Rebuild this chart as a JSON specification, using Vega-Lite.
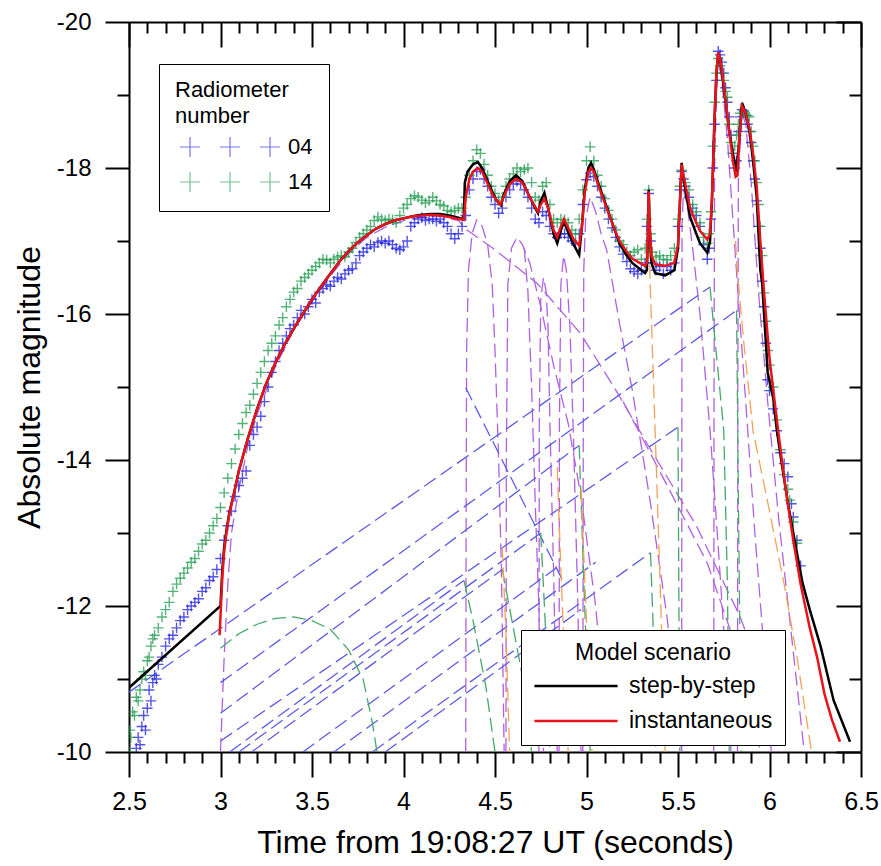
{
"$schema": "https://vega.github.io/schema/vega-lite/v6.json",
"width": 732, "height": 730,
"autosize": {"type": "none"},
"padding": {"left": 129, "top": 22, "right": 20, "bottom": 114},
"background": "white",
"datasets": {
"comp": [
{"c":"P1","k":"frag","i":0,"t":3.0,"m":-10.0},{"c":"P1","k":"frag","i":1,"t":3.02,"m":-11.3},{"c":"P1","k":"frag","i":2,"t":3.04,"m":-12.3},{"c":"P1","k":"frag","i":3,"t":3.06,"m":-13.0},{"c":"P1","k":"frag","i":4,"t":3.1,"m":-13.6},{"c":"P1","k":"frag","i":5,"t":3.15,"m":-14.2},{"c":"P1","k":"frag","i":6,"t":3.2,"m":-14.62},{"c":"P1","k":"frag","i":7,"t":3.3,"m":-15.28},{"c":"P1","k":"frag","i":8,"t":3.4,"m":-15.78},{"c":"P1","k":"frag","i":9,"t":3.5,"m":-16.17},{"c":"P1","k":"frag","i":10,"t":3.6,"m":-16.52},{"c":"P1","k":"frag","i":11,"t":3.7,"m":-16.83},{"c":"P1","k":"frag","i":12,"t":3.8,"m":-17.05},{"c":"P1","k":"frag","i":13,"t":3.9,"m":-17.19},{"c":"P1","k":"frag","i":14,"t":4.0,"m":-17.28},{"c":"P1","k":"frag","i":15,"t":4.1,"m":-17.33},{"c":"P1","k":"frag","i":16,"t":4.2,"m":-17.34},{"c":"P1","k":"frag","i":17,"t":4.3,"m":-17.28},{"c":"P1","k":"frag","i":18,"t":4.347,"m":-17.15},{"c":"P1","k":"frag","i":19,"t":4.5,"m":-16.88},{"c":"P1","k":"frag","i":20,"t":4.73,"m":-16.42},{"c":"P1","k":"frag","i":21,"t":4.965,"m":-15.74},{"c":"P1","k":"frag","i":22,"t":5.15,"m":-15.0},{"c":"P1","k":"frag","i":23,"t":5.33,"m":-14.23},{"c":"P1","k":"frag","i":24,"t":5.6,"m":-13.1},{"c":"P1","k":"frag","i":25,"t":5.84,"m":-11.85},{"c":"P1","k":"frag","i":26,"t":5.95,"m":-11.1},{"c":"P1","k":"frag","i":27,"t":6.05,"m":-10.0},
{"c":"F1","k":"frag","i":0,"t":4.34,"m":-10.0},{"c":"F1","k":"frag","i":1,"t":4.342,"m":-13.0},{"c":"F1","k":"frag","i":2,"t":4.345,"m":-15.5},{"c":"F1","k":"frag","i":3,"t":4.355,"m":-16.6},{"c":"F1","k":"frag","i":4,"t":4.375,"m":-17.1},{"c":"F1","k":"frag","i":5,"t":4.4,"m":-17.29},{"c":"F1","k":"frag","i":6,"t":4.43,"m":-17.2},{"c":"F1","k":"frag","i":7,"t":4.46,"m":-16.95},{"c":"F1","k":"frag","i":8,"t":4.485,"m":-16.4},{"c":"F1","k":"frag","i":9,"t":4.5,"m":-15.5},{"c":"F1","k":"frag","i":10,"t":4.52,"m":-14.0},{"c":"F1","k":"frag","i":11,"t":4.535,"m":-12.5},{"c":"F1","k":"frag","i":12,"t":4.55,"m":-10.0},
{"c":"F2","k":"frag","i":0,"t":4.56,"m":-10.0},{"c":"F2","k":"frag","i":1,"t":4.562,"m":-14.0},{"c":"F2","k":"frag","i":2,"t":4.57,"m":-16.4},{"c":"F2","k":"frag","i":3,"t":4.59,"m":-16.9},{"c":"F2","k":"frag","i":4,"t":4.62,"m":-17.05},{"c":"F2","k":"frag","i":5,"t":4.65,"m":-16.95},{"c":"F2","k":"frag","i":6,"t":4.69,"m":-16.7},{"c":"F2","k":"frag","i":7,"t":4.75,"m":-16.1},{"c":"F2","k":"frag","i":8,"t":4.82,"m":-15.3},{"c":"F2","k":"frag","i":9,"t":4.9,"m":-14.5},{"c":"F2","k":"frag","i":10,"t":4.97,"m":-13.5},{"c":"F2","k":"frag","i":11,"t":5.05,"m":-12.0},{"c":"F2","k":"frag","i":12,"t":5.12,"m":-10.0},
{"c":"F2b","k":"frag","i":0,"t":4.66,"m":-16.9},{"c":"F2b","k":"frag","i":1,"t":4.68,"m":-16.3},{"c":"F2b","k":"frag","i":2,"t":4.7,"m":-15.0},{"c":"F2b","k":"frag","i":3,"t":4.72,"m":-13.4},{"c":"F2b","k":"frag","i":4,"t":4.745,"m":-11.6},{"c":"F2b","k":"frag","i":5,"t":4.765,"m":-10.0},
{"c":"F3","k":"frag","i":0,"t":4.74,"m":-10.0},{"c":"F3","k":"frag","i":1,"t":4.742,"m":-14.5},{"c":"F3","k":"frag","i":2,"t":4.75,"m":-16.2},{"c":"F3","k":"frag","i":3,"t":4.765,"m":-16.5},{"c":"F3","k":"frag","i":4,"t":4.78,"m":-16.3},{"c":"F3","k":"frag","i":5,"t":4.79,"m":-15.8},{"c":"F3","k":"frag","i":6,"t":4.8,"m":-14.5},{"c":"F3","k":"frag","i":7,"t":4.82,"m":-12.5},{"c":"F3","k":"frag","i":8,"t":4.84,"m":-10.0},
{"c":"F4","k":"frag","i":0,"t":4.85,"m":-10.0},{"c":"F4","k":"frag","i":1,"t":4.852,"m":-14.5},{"c":"F4","k":"frag","i":2,"t":4.86,"m":-16.4},{"c":"F4","k":"frag","i":3,"t":4.875,"m":-16.8},{"c":"F4","k":"frag","i":4,"t":4.89,"m":-16.6},{"c":"F4","k":"frag","i":5,"t":4.91,"m":-15.8},{"c":"F4","k":"frag","i":6,"t":4.93,"m":-14.2},{"c":"F4","k":"frag","i":7,"t":4.95,"m":-12.3},{"c":"F4","k":"frag","i":8,"t":4.97,"m":-10.0},
{"c":"F5","k":"frag","i":0,"t":4.98,"m":-10.0},{"c":"F5","k":"frag","i":1,"t":4.982,"m":-14.0},{"c":"F5","k":"frag","i":2,"t":4.985,"m":-16.6},{"c":"F5","k":"frag","i":3,"t":4.995,"m":-17.3},{"c":"F5","k":"frag","i":4,"t":5.02,"m":-17.6},{"c":"F5","k":"frag","i":5,"t":5.05,"m":-17.4},{"c":"F5","k":"frag","i":6,"t":5.08,"m":-17.1},{"c":"F5","k":"frag","i":7,"t":5.11,"m":-16.88},{"c":"F5","k":"frag","i":8,"t":5.18,"m":-15.88},{"c":"F5","k":"frag","i":9,"t":5.25,"m":-14.96},{"c":"F5","k":"frag","i":10,"t":5.35,"m":-13.4},{"c":"F5","k":"frag","i":11,"t":5.44,"m":-11.85},{"c":"F5","k":"frag","i":12,"t":5.52,"m":-10.0},
{"c":"F6","k":"frag","i":0,"t":5.52,"m":-10.0},{"c":"F6","k":"frag","i":1,"t":5.521,"m":-14.5},{"c":"F6","k":"frag","i":2,"t":5.522,"m":-17.2},{"c":"F6","k":"frag","i":3,"t":5.53,"m":-17.7},{"c":"F6","k":"frag","i":4,"t":5.55,"m":-17.5},{"c":"F6","k":"frag","i":5,"t":5.58,"m":-16.9},{"c":"F6","k":"frag","i":6,"t":5.62,"m":-16.0},{"c":"F6","k":"frag","i":7,"t":5.675,"m":-14.41},{"c":"F6","k":"frag","i":8,"t":5.72,"m":-12.8},{"c":"F6","k":"frag","i":9,"t":5.76,"m":-11.3},{"c":"F6","k":"frag","i":10,"t":5.79,"m":-10.0},
{"c":"F7","k":"frag","i":0,"t":5.695,"m":-10.0},{"c":"F7","k":"frag","i":1,"t":5.697,"m":-15.0},{"c":"F7","k":"frag","i":2,"t":5.7,"m":-18.0},{"c":"F7","k":"frag","i":3,"t":5.71,"m":-19.0},{"c":"F7","k":"frag","i":4,"t":5.72,"m":-19.5},{"c":"F7","k":"frag","i":5,"t":5.74,"m":-19.2},{"c":"F7","k":"frag","i":6,"t":5.77,"m":-18.4},{"c":"F7","k":"frag","i":7,"t":5.8,"m":-17.3},{"c":"F7","k":"frag","i":8,"t":5.83,"m":-16.2},{"c":"F7","k":"frag","i":9,"t":5.87,"m":-14.8},{"c":"F7","k":"frag","i":10,"t":5.92,"m":-13.0},{"c":"F7","k":"frag","i":11,"t":5.97,"m":-11.4},{"c":"F7","k":"frag","i":12,"t":6.01,"m":-10.0},
{"c":"F8","k":"frag","i":0,"t":5.825,"m":-10.0},{"c":"F8","k":"frag","i":1,"t":5.827,"m":-15.0},{"c":"F8","k":"frag","i":2,"t":5.83,"m":-17.9},{"c":"F8","k":"frag","i":3,"t":5.85,"m":-18.75},{"c":"F8","k":"frag","i":4,"t":5.87,"m":-18.6},{"c":"F8","k":"frag","i":5,"t":5.9,"m":-17.8},{"c":"F8","k":"frag","i":6,"t":5.94,"m":-16.3},{"c":"F8","k":"frag","i":7,"t":5.99,"m":-14.8},{"c":"F8","k":"frag","i":8,"t":6.05,"m":-13.2},{"c":"F8","k":"frag","i":9,"t":6.12,"m":-11.6},{"c":"F8","k":"frag","i":10,"t":6.19,"m":-10.0},
{"c":"F9","k":"frag","i":0,"t":5.2,"m":-14.8},{"c":"F9","k":"frag","i":1,"t":5.36,"m":-14.04},{"c":"F9","k":"frag","i":2,"t":5.66,"m":-12.59},{"c":"F9","k":"frag","i":3,"t":5.85,"m":-11.2},{"c":"F9","k":"frag","i":4,"t":5.95,"m":-10.0},
{"c":"B1","k":"wake","i":0,"t":2.5,"m":-10.82},{"c":"B1","k":"wake","i":1,"t":5.675,"m":-16.37},
{"c":"B2","k":"wake","i":0,"t":3.0,"m":-10.95},{"c":"B2","k":"wake","i":1,"t":5.82,"m":-16.05},
{"c":"B3","k":"wake","i":0,"t":3.0,"m":-10.15},{"c":"B3","k":"wake","i":1,"t":5.5,"m":-14.45},
{"c":"B4","k":"wake","i":0,"t":3.83,"m":-10.0},{"c":"B4","k":"wake","i":1,"t":5.35,"m":-12.73},
{"c":"B5","k":"wake","i":0,"t":3.0,"m":-10.53},{"c":"B5","k":"wake","i":1,"t":4.96,"m":-14.2},
{"c":"B6","k":"wake","i":0,"t":3.1,"m":-10.0},{"c":"B6","k":"wake","i":1,"t":4.75,"m":-13.0},
{"c":"B7","k":"wake","i":0,"t":3.17,"m":-10.0},{"c":"B7","k":"wake","i":1,"t":4.54,"m":-12.5},
{"c":"B8","k":"wake","i":0,"t":3.45,"m":-10.0},{"c":"B8","k":"wake","i":1,"t":4.85,"m":-12.55},
{"c":"B9","k":"wake","i":0,"t":3.62,"m":-10.0},{"c":"B9","k":"wake","i":1,"t":5.05,"m":-12.6},
{"c":"B10","k":"wake","i":0,"t":3.05,"m":-10.0},{"c":"B10","k":"wake","i":1,"t":4.33,"m":-12.35},
{"c":"B11","k":"wake","i":0,"t":4.34,"m":-14.99},{"c":"B11","k":"wake","i":1,"t":4.88,"m":-12.3},
{"c":"B12","k":"wake","i":0,"t":3.9,"m":-10.0},{"c":"B12","k":"wake","i":1,"t":4.97,"m":-11.95},
{"c":"G1","k":"green","i":0,"t":3.0,"m":-11.42},{"c":"G1","k":"green","i":1,"t":3.1,"m":-11.62},{"c":"G1","k":"green","i":2,"t":3.2,"m":-11.75},{"c":"G1","k":"green","i":3,"t":3.3,"m":-11.83},{"c":"G1","k":"green","i":4,"t":3.4,"m":-11.85},{"c":"G1","k":"green","i":5,"t":3.5,"m":-11.8},{"c":"G1","k":"green","i":6,"t":3.6,"m":-11.68},{"c":"G1","k":"green","i":7,"t":3.7,"m":-11.4},{"c":"G1","k":"green","i":8,"t":3.78,"m":-10.99},{"c":"G1","k":"green","i":9,"t":3.83,"m":-10.4},{"c":"G1","k":"green","i":10,"t":3.855,"m":-10.0},
{"c":"G2","k":"green","i":0,"t":5.675,"m":-16.37},{"c":"G2","k":"green","i":1,"t":5.7,"m":-15.7},{"c":"G2","k":"green","i":2,"t":5.75,"m":-14.41},{"c":"G2","k":"green","i":3,"t":5.77,"m":-12.3},{"c":"G2","k":"green","i":4,"t":5.78,"m":-10.0},
{"c":"G3","k":"green","i":0,"t":5.82,"m":-16.05},{"c":"G3","k":"green","i":1,"t":5.83,"m":-13.5},{"c":"G3","k":"green","i":2,"t":5.845,"m":-10.0},
{"c":"G4","k":"green","i":0,"t":5.5,"m":-14.45},{"c":"G4","k":"green","i":1,"t":5.505,"m":-12.0},{"c":"G4","k":"green","i":2,"t":5.51,"m":-10.0},
{"c":"G5","k":"green","i":0,"t":4.96,"m":-14.2},{"c":"G5","k":"green","i":1,"t":4.99,"m":-12.0},{"c":"G5","k":"green","i":2,"t":5.02,"m":-10.0},
{"c":"G6","k":"green","i":0,"t":4.54,"m":-12.5},{"c":"G6","k":"green","i":1,"t":4.6,"m":-11.7},{"c":"G6","k":"green","i":2,"t":4.66,"m":-10.9},{"c":"G6","k":"green","i":3,"t":4.7,"m":-10.0},
{"c":"G7","k":"green","i":0,"t":4.33,"m":-12.35},{"c":"G7","k":"green","i":1,"t":4.38,"m":-11.8},{"c":"G7","k":"green","i":2,"t":4.45,"m":-10.9},{"c":"G7","k":"green","i":3,"t":4.5,"m":-10.0},
{"c":"G8","k":"green","i":0,"t":4.75,"m":-13.0},{"c":"G8","k":"green","i":1,"t":4.78,"m":-11.5},{"c":"G8","k":"green","i":2,"t":4.8,"m":-10.0},
{"c":"G9","k":"green","i":0,"t":5.35,"m":-12.73},{"c":"G9","k":"green","i":1,"t":5.37,"m":-11.3},{"c":"G9","k":"green","i":2,"t":5.38,"m":-10.0},
{"c":"O1","k":"orange","i":0,"t":5.34,"m":-17.5},{"c":"O1","k":"orange","i":1,"t":5.347,"m":-16.5},{"c":"O1","k":"orange","i":2,"t":5.375,"m":-14.4},{"c":"O1","k":"orange","i":3,"t":5.4,"m":-12.5},{"c":"O1","k":"orange","i":4,"t":5.43,"m":-10.0},
{"c":"O2","k":"orange","i":0,"t":5.815,"m":-17.0},{"c":"O2","k":"orange","i":1,"t":5.82,"m":-16.7},{"c":"O2","k":"orange","i":2,"t":5.86,"m":-15.6},{"c":"O2","k":"orange","i":3,"t":5.91,"m":-14.4},{"c":"O2","k":"orange","i":4,"t":6.0,"m":-13.3},{"c":"O2","k":"orange","i":5,"t":6.08,"m":-12.3},{"c":"O2","k":"orange","i":6,"t":6.15,"m":-11.3},{"c":"O2","k":"orange","i":7,"t":6.23,"m":-10.0},
{"c":"O3","k":"orange","i":0,"t":4.54,"m":-12.8},{"c":"O3","k":"orange","i":1,"t":4.56,"m":-11.6},{"c":"O3","k":"orange","i":2,"t":4.58,"m":-10.0},
{"c":"O4","k":"orange","i":0,"t":4.84,"m":-13.9},{"c":"O4","k":"orange","i":1,"t":4.86,"m":-12.5},{"c":"O4","k":"orange","i":2,"t":4.88,"m":-11.3},{"c":"O4","k":"orange","i":3,"t":4.9,"m":-10.0},
{"c":"O5","k":"orange","i":0,"t":4.97,"m":-13.6},{"c":"O5","k":"orange","i":1,"t":5.0,"m":-11.8},{"c":"O5","k":"orange","i":2,"t":5.03,"m":-10.0}
],
"rad": [
{"r":"04","t":2.54,"m":-10.05},{"r":"04","t":2.55,"m":-10.2},{"r":"04","t":2.56,"m":-10.1},{"r":"04","t":2.57,"m":-10.35},{"r":"04","t":2.58,"m":-10.5},{"r":"04","t":2.59,"m":-10.3},{"r":"04","t":2.6,"m":-10.6},{"r":"04","t":2.61,"m":-10.85},{"r":"04","t":2.62,"m":-10.7},{"r":"04","t":2.63,"m":-10.95},{"r":"04","t":2.64,"m":-11.05},{"r":"04","t":2.65,"m":-11.0},{"r":"04","t":2.66,"m":-11.2},{"r":"04","t":2.68,"m":-11.3},{"r":"04","t":2.7,"m":-11.45},{"r":"04","t":2.72,"m":-11.55},{"r":"04","t":2.74,"m":-11.6},{"r":"04","t":2.76,"m":-11.7},{"r":"04","t":2.78,"m":-11.8},{"r":"04","t":2.8,"m":-11.85},{"r":"04","t":2.82,"m":-11.95},{"r":"04","t":2.84,"m":-12.0},{"r":"04","t":2.86,"m":-12.05},{"r":"04","t":2.88,"m":-12.1},{"r":"04","t":2.9,"m":-12.2},{"r":"04","t":2.92,"m":-12.25},{"r":"04","t":2.94,"m":-12.35},{"r":"04","t":2.96,"m":-12.4},{"r":"04","t":2.98,"m":-12.5},{"r":"04","t":3.0,"m":-12.65},{"r":"04","t":3.02,"m":-12.9},{"r":"04","t":3.04,"m":-13.1},{"r":"04","t":3.06,"m":-13.3},{"r":"04","t":3.08,"m":-13.5},{"r":"04","t":3.1,"m":-13.65},{"r":"04","t":3.12,"m":-13.75},{"r":"04","t":3.14,"m":-13.85},{"r":"04","t":3.16,"m":-14.2},{"r":"04","t":3.18,"m":-14.35},{"r":"04","t":3.2,"m":-14.45},{"r":"04","t":3.22,"m":-14.6},{"r":"04","t":3.24,"m":-14.8},{"r":"04","t":3.26,"m":-15.0},{"r":"04","t":3.28,"m":-15.2},{"r":"04","t":3.3,"m":-15.35},{"r":"04","t":3.32,"m":-15.5},{"r":"04","t":3.34,"m":-15.6},{"r":"04","t":3.36,"m":-15.7},{"r":"04","t":3.38,"m":-15.8},{"r":"04","t":3.4,"m":-15.85},{"r":"04","t":3.42,"m":-15.95},{"r":"04","t":3.44,"m":-16.05},{"r":"04","t":3.46,"m":-16.0},{"r":"04","t":3.48,"m":-16.1},{"r":"04","t":3.5,"m":-16.2},{"r":"04","t":3.52,"m":-16.15},{"r":"04","t":3.54,"m":-16.3},{"r":"04","t":3.56,"m":-16.35},{"r":"04","t":3.58,"m":-16.4},{"r":"04","t":3.6,"m":-16.38},{"r":"04","t":3.62,"m":-16.45},{"r":"04","t":3.64,"m":-16.5},{"r":"04","t":3.66,"m":-16.48},{"r":"04","t":3.68,"m":-16.55},{"r":"04","t":3.7,"m":-16.6},{"r":"04","t":3.72,"m":-16.62},{"r":"04","t":3.74,"m":-16.7},{"r":"04","t":3.76,"m":-16.8},{"r":"04","t":3.78,"m":-16.85},{"r":"04","t":3.8,"m":-16.9},{"r":"04","t":3.82,"m":-16.95},{"r":"04","t":3.84,"m":-16.92},{"r":"04","t":3.86,"m":-16.98},{"r":"04","t":3.88,"m":-17.0},{"r":"04","t":3.9,"m":-16.97},{"r":"04","t":3.92,"m":-17.0},{"r":"04","t":3.94,"m":-16.95},{"r":"04","t":3.96,"m":-16.9},{"r":"04","t":3.98,"m":-16.88},{"r":"04","t":4.0,"m":-16.92},{"r":"04","t":4.02,"m":-17.0},{"r":"04","t":4.04,"m":-17.2},{"r":"04","t":4.06,"m":-17.25},{"r":"04","t":4.08,"m":-17.3},{"r":"04","t":4.1,"m":-17.32},{"r":"04","t":4.12,"m":-17.28},{"r":"04","t":4.14,"m":-17.3},{"r":"04","t":4.16,"m":-17.3},{"r":"04","t":4.18,"m":-17.27},{"r":"04","t":4.2,"m":-17.3},{"r":"04","t":4.22,"m":-17.25},{"r":"04","t":4.24,"m":-17.2},{"r":"04","t":4.26,"m":-17.1},{"r":"04","t":4.28,"m":-17.03},{"r":"04","t":4.3,"m":-17.1},{"r":"04","t":4.32,"m":-17.2},{"r":"04","t":4.34,"m":-17.35},{"r":"04","t":4.36,"m":-17.7},{"r":"04","t":4.38,"m":-17.85},{"r":"04","t":4.4,"m":-17.95},{"r":"04","t":4.42,"m":-17.98},{"r":"04","t":4.44,"m":-17.85},{"r":"04","t":4.46,"m":-17.75},{"r":"04","t":4.48,"m":-17.6},{"r":"04","t":4.5,"m":-17.5},{"r":"04","t":4.52,"m":-17.38},{"r":"04","t":4.54,"m":-17.45},{"r":"04","t":4.56,"m":-17.6},{"r":"04","t":4.58,"m":-17.7},{"r":"04","t":4.6,"m":-17.78},{"r":"04","t":4.62,"m":-17.82},{"r":"04","t":4.64,"m":-17.78},{"r":"04","t":4.66,"m":-17.7},{"r":"04","t":4.68,"m":-17.6},{"r":"04","t":4.7,"m":-17.45},{"r":"04","t":4.72,"m":-17.3},{"r":"04","t":4.74,"m":-17.25},{"r":"04","t":4.76,"m":-17.4},{"r":"04","t":4.78,"m":-17.35},{"r":"04","t":4.8,"m":-17.2},{"r":"04","t":4.82,"m":-17.1},{"r":"04","t":4.84,"m":-17.05},{"r":"04","t":4.86,"m":-17.1},{"r":"04","t":4.88,"m":-17.1},{"r":"04","t":4.9,"m":-17.05},{"r":"04","t":4.92,"m":-17.0},{"r":"04","t":4.94,"m":-16.97},{"r":"04","t":4.96,"m":-17.1},{"r":"04","t":4.98,"m":-17.5},{"r":"04","t":5.0,"m":-17.84},{"r":"04","t":5.02,"m":-17.93},{"r":"04","t":5.04,"m":-17.88},{"r":"04","t":5.06,"m":-17.75},{"r":"04","t":5.08,"m":-17.6},{"r":"04","t":5.1,"m":-17.45},{"r":"04","t":5.12,"m":-17.3},{"r":"04","t":5.14,"m":-17.18},{"r":"04","t":5.16,"m":-17.05},{"r":"04","t":5.18,"m":-16.92},{"r":"04","t":5.2,"m":-16.82},{"r":"04","t":5.22,"m":-16.72},{"r":"04","t":5.24,"m":-16.62},{"r":"04","t":5.26,"m":-16.58},{"r":"04","t":5.28,"m":-16.55},{"r":"04","t":5.3,"m":-16.6},{"r":"04","t":5.32,"m":-16.7},{"r":"04","t":5.33,"m":-17.2},{"r":"04","t":5.34,"m":-17.65},{"r":"04","t":5.35,"m":-17.0},{"r":"04","t":5.36,"m":-16.7},{"r":"04","t":5.38,"m":-16.6},{"r":"04","t":5.4,"m":-16.65},{"r":"04","t":5.42,"m":-16.55},{"r":"04","t":5.44,"m":-16.65},{"r":"04","t":5.46,"m":-16.6},{"r":"04","t":5.48,"m":-16.7},{"r":"04","t":5.5,"m":-17.2},{"r":"04","t":5.51,"m":-17.7},{"r":"04","t":5.52,"m":-17.95},{"r":"04","t":5.53,"m":-17.85},{"r":"04","t":5.54,"m":-17.75},{"r":"04","t":5.56,"m":-17.6},{"r":"04","t":5.58,"m":-17.45},{"r":"04","t":5.6,"m":-17.35},{"r":"04","t":5.62,"m":-17.2},{"r":"04","t":5.64,"m":-16.95},{"r":"04","t":5.66,"m":-16.75},{"r":"04","t":5.67,"m":-16.9},{"r":"04","t":5.68,"m":-17.3},{"r":"04","t":5.69,"m":-18.0},{"r":"04","t":5.7,"m":-18.6},{"r":"04","t":5.71,"m":-19.2},{"r":"04","t":5.72,"m":-19.6},{"r":"04","t":5.73,"m":-19.55},{"r":"04","t":5.74,"m":-19.45},{"r":"04","t":5.75,"m":-19.3},{"r":"04","t":5.76,"m":-19.1},{"r":"04","t":5.77,"m":-18.9},{"r":"04","t":5.78,"m":-18.7},{"r":"04","t":5.79,"m":-18.45},{"r":"04","t":5.8,"m":-18.2},{"r":"04","t":5.81,"m":-18.0},{"r":"04","t":5.82,"m":-18.1},{"r":"04","t":5.83,"m":-18.5},{"r":"04","t":5.84,"m":-18.7},{"r":"04","t":5.85,"m":-18.8},{"r":"04","t":5.86,"m":-18.78},{"r":"04","t":5.87,"m":-18.72},{"r":"04","t":5.88,"m":-18.6},{"r":"04","t":5.89,"m":-18.5},{"r":"04","t":5.9,"m":-18.35},{"r":"04","t":5.91,"m":-18.1},{"r":"04","t":5.92,"m":-17.85},{"r":"04","t":5.93,"m":-17.55},{"r":"04","t":5.94,"m":-17.2},{"r":"04","t":5.95,"m":-16.9},{"r":"04","t":5.96,"m":-16.45},{"r":"04","t":5.97,"m":-16.1},{"r":"04","t":5.98,"m":-15.6},{"r":"04","t":5.99,"m":-15.1},{"r":"04","t":6.0,"m":-14.95},{"r":"04","t":6.02,"m":-14.7},{"r":"04","t":6.04,"m":-14.4},{"r":"04","t":6.06,"m":-14.1},{"r":"04","t":6.08,"m":-13.95},{"r":"04","t":6.1,"m":-13.77},{"r":"04","t":6.12,"m":-13.4},{"r":"04","t":6.13,"m":-13.22},{"r":"04","t":6.15,"m":-12.9},{"r":"04","t":6.17,"m":-12.55},
{"r":"14","t":2.5,"m":-10.0},{"r":"14","t":2.505,"m":-10.3},{"r":"14","t":2.51,"m":-10.2},{"r":"14","t":2.52,"m":-10.55},{"r":"14","t":2.53,"m":-10.5},{"r":"14","t":2.54,"m":-10.75},{"r":"14","t":2.55,"m":-10.7},{"r":"14","t":2.56,"m":-10.85},{"r":"14","t":2.57,"m":-11.0},{"r":"14","t":2.58,"m":-11.1},{"r":"14","t":2.59,"m":-11.05},{"r":"14","t":2.6,"m":-11.25},{"r":"14","t":2.61,"m":-11.3},{"r":"14","t":2.62,"m":-11.45},{"r":"14","t":2.63,"m":-11.55},{"r":"14","t":2.64,"m":-11.6},{"r":"14","t":2.66,"m":-11.7},{"r":"14","t":2.68,"m":-11.85},{"r":"14","t":2.7,"m":-11.95},{"r":"14","t":2.72,"m":-12.05},{"r":"14","t":2.74,"m":-12.2},{"r":"14","t":2.76,"m":-12.3},{"r":"14","t":2.78,"m":-12.38},{"r":"14","t":2.8,"m":-12.45},{"r":"14","t":2.82,"m":-12.52},{"r":"14","t":2.84,"m":-12.6},{"r":"14","t":2.86,"m":-12.65},{"r":"14","t":2.88,"m":-12.75},{"r":"14","t":2.9,"m":-12.85},{"r":"14","t":2.92,"m":-12.9},{"r":"14","t":2.94,"m":-13.0},{"r":"14","t":2.96,"m":-13.1},{"r":"14","t":2.98,"m":-13.2},{"r":"14","t":3.0,"m":-13.35},{"r":"14","t":3.02,"m":-13.55},{"r":"14","t":3.04,"m":-13.75},{"r":"14","t":3.06,"m":-13.95},{"r":"14","t":3.08,"m":-14.15},{"r":"14","t":3.1,"m":-14.35},{"r":"14","t":3.12,"m":-14.5},{"r":"14","t":3.14,"m":-14.65},{"r":"14","t":3.16,"m":-14.75},{"r":"14","t":3.18,"m":-14.9},{"r":"14","t":3.2,"m":-15.05},{"r":"14","t":3.22,"m":-15.2},{"r":"14","t":3.24,"m":-15.35},{"r":"14","t":3.26,"m":-15.5},{"r":"14","t":3.28,"m":-15.6},{"r":"14","t":3.3,"m":-15.7},{"r":"14","t":3.32,"m":-15.85},{"r":"14","t":3.34,"m":-15.95},{"r":"14","t":3.36,"m":-16.1},{"r":"14","t":3.38,"m":-16.2},{"r":"14","t":3.4,"m":-16.3},{"r":"14","t":3.42,"m":-16.35},{"r":"14","t":3.44,"m":-16.45},{"r":"14","t":3.46,"m":-16.5},{"r":"14","t":3.48,"m":-16.55},{"r":"14","t":3.5,"m":-16.6},{"r":"14","t":3.52,"m":-16.65},{"r":"14","t":3.54,"m":-16.7},{"r":"14","t":3.56,"m":-16.75},{"r":"14","t":3.58,"m":-16.74},{"r":"14","t":3.6,"m":-16.7},{"r":"14","t":3.62,"m":-16.75},{"r":"14","t":3.64,"m":-16.78},{"r":"14","t":3.66,"m":-16.8},{"r":"14","t":3.68,"m":-16.78},{"r":"14","t":3.7,"m":-16.85},{"r":"14","t":3.72,"m":-16.9},{"r":"14","t":3.74,"m":-16.98},{"r":"14","t":3.76,"m":-17.05},{"r":"14","t":3.78,"m":-17.1},{"r":"14","t":3.8,"m":-17.15},{"r":"14","t":3.82,"m":-17.2},{"r":"14","t":3.84,"m":-17.28},{"r":"14","t":3.86,"m":-17.33},{"r":"14","t":3.88,"m":-17.3},{"r":"14","t":3.9,"m":-17.28},{"r":"14","t":3.92,"m":-17.3},{"r":"14","t":3.94,"m":-17.29},{"r":"14","t":3.96,"m":-17.25},{"r":"14","t":3.98,"m":-17.35},{"r":"14","t":4.0,"m":-17.45},{"r":"14","t":4.02,"m":-17.5},{"r":"14","t":4.04,"m":-17.58},{"r":"14","t":4.06,"m":-17.62},{"r":"14","t":4.08,"m":-17.6},{"r":"14","t":4.1,"m":-17.56},{"r":"14","t":4.12,"m":-17.52},{"r":"14","t":4.14,"m":-17.55},{"r":"14","t":4.16,"m":-17.6},{"r":"14","t":4.18,"m":-17.55},{"r":"14","t":4.2,"m":-17.5},{"r":"14","t":4.22,"m":-17.48},{"r":"14","t":4.24,"m":-17.42},{"r":"14","t":4.26,"m":-17.4},{"r":"14","t":4.28,"m":-17.42},{"r":"14","t":4.3,"m":-17.45},{"r":"14","t":4.32,"m":-17.45},{"r":"14","t":4.34,"m":-17.6},{"r":"14","t":4.36,"m":-17.9},{"r":"14","t":4.38,"m":-18.1},{"r":"14","t":4.4,"m":-18.25},{"r":"14","t":4.42,"m":-18.2},{"r":"14","t":4.44,"m":-18.05},{"r":"14","t":4.46,"m":-17.9},{"r":"14","t":4.48,"m":-17.75},{"r":"14","t":4.5,"m":-17.65},{"r":"14","t":4.52,"m":-17.56},{"r":"14","t":4.54,"m":-17.6},{"r":"14","t":4.56,"m":-17.75},{"r":"14","t":4.58,"m":-17.85},{"r":"14","t":4.6,"m":-17.92},{"r":"14","t":4.62,"m":-18.0},{"r":"14","t":4.64,"m":-17.95},{"r":"14","t":4.66,"m":-17.98},{"r":"14","t":4.68,"m":-18.0},{"r":"14","t":4.7,"m":-17.8},{"r":"14","t":4.72,"m":-17.6},{"r":"14","t":4.74,"m":-17.56},{"r":"14","t":4.76,"m":-17.75},{"r":"14","t":4.78,"m":-17.8},{"r":"14","t":4.8,"m":-17.5},{"r":"14","t":4.82,"m":-17.3},{"r":"14","t":4.84,"m":-17.25},{"r":"14","t":4.86,"m":-17.3},{"r":"14","t":4.88,"m":-17.29},{"r":"14","t":4.9,"m":-17.25},{"r":"14","t":4.92,"m":-17.15},{"r":"14","t":4.94,"m":-17.1},{"r":"14","t":4.96,"m":-17.3},{"r":"14","t":4.98,"m":-17.7},{"r":"14","t":5.0,"m":-18.1},{"r":"14","t":5.02,"m":-18.29},{"r":"14","t":5.04,"m":-18.1},{"r":"14","t":5.06,"m":-17.9},{"r":"14","t":5.08,"m":-17.75},{"r":"14","t":5.1,"m":-17.58},{"r":"14","t":5.12,"m":-17.42},{"r":"14","t":5.14,"m":-17.3},{"r":"14","t":5.16,"m":-17.15},{"r":"14","t":5.18,"m":-17.0},{"r":"14","t":5.2,"m":-16.95},{"r":"14","t":5.22,"m":-16.85},{"r":"14","t":5.24,"m":-16.8},{"r":"14","t":5.26,"m":-16.85},{"r":"14","t":5.28,"m":-16.88},{"r":"14","t":5.3,"m":-16.75},{"r":"14","t":5.32,"m":-16.9},{"r":"14","t":5.33,"m":-17.3},{"r":"14","t":5.34,"m":-17.7},{"r":"14","t":5.35,"m":-17.1},{"r":"14","t":5.36,"m":-16.85},{"r":"14","t":5.38,"m":-16.78},{"r":"14","t":5.4,"m":-16.8},{"r":"14","t":5.42,"m":-16.75},{"r":"14","t":5.44,"m":-16.74},{"r":"14","t":5.46,"m":-16.8},{"r":"14","t":5.48,"m":-16.9},{"r":"14","t":5.5,"m":-17.3},{"r":"14","t":5.51,"m":-17.75},{"r":"14","t":5.52,"m":-17.97},{"r":"14","t":5.54,"m":-17.8},{"r":"14","t":5.56,"m":-17.7},{"r":"14","t":5.58,"m":-17.5},{"r":"14","t":5.6,"m":-17.4},{"r":"14","t":5.62,"m":-17.25},{"r":"14","t":5.64,"m":-17.05},{"r":"14","t":5.66,"m":-16.97},{"r":"14","t":5.67,"m":-17.1},{"r":"14","t":5.68,"m":-17.4},{"r":"14","t":5.69,"m":-18.3},{"r":"14","t":5.7,"m":-18.9},{"r":"14","t":5.71,"m":-19.3},{"r":"14","t":5.72,"m":-19.5},{"r":"14","t":5.73,"m":-19.4},{"r":"14","t":5.74,"m":-19.3},{"r":"14","t":5.75,"m":-19.2},{"r":"14","t":5.76,"m":-19.05},{"r":"14","t":5.77,"m":-18.97},{"r":"14","t":5.78,"m":-18.6},{"r":"14","t":5.79,"m":-18.35},{"r":"14","t":5.8,"m":-18.2},{"r":"14","t":5.81,"m":-18.3},{"r":"14","t":5.82,"m":-18.45},{"r":"14","t":5.83,"m":-18.6},{"r":"14","t":5.84,"m":-18.75},{"r":"14","t":5.86,"m":-18.75},{"r":"14","t":5.88,"m":-18.72},{"r":"14","t":5.89,"m":-18.7},{"r":"14","t":5.9,"m":-18.5},{"r":"14","t":5.91,"m":-18.3},{"r":"14","t":5.92,"m":-18.1},{"r":"14","t":5.93,"m":-17.8},{"r":"14","t":5.94,"m":-17.5},{"r":"14","t":5.95,"m":-17.2},{"r":"14","t":5.96,"m":-16.8},{"r":"14","t":5.97,"m":-16.29},{"r":"14","t":5.98,"m":-15.9},{"r":"14","t":5.99,"m":-15.5},{"r":"14","t":6.0,"m":-15.3},{"r":"14","t":6.02,"m":-15.0},{"r":"14","t":6.04,"m":-14.55},{"r":"14","t":6.06,"m":-14.14},{"r":"14","t":6.08,"m":-13.8},{"r":"14","t":6.1,"m":-13.6},{"r":"14","t":6.11,"m":-13.45},{"r":"14","t":6.13,"m":-13.15},{"r":"14","t":6.15,"m":-12.86}
],
"mod": [
{"s":"step-by-step","t":2.5,"m":-10.88},{"s":"step-by-step","t":3.0,"m":-12.0},{"s":"step-by-step","t":3.01,"m":-12.5},{"s":"step-by-step","t":3.02,"m":-12.8},{"s":"step-by-step","t":3.035,"m":-13.08},{"s":"step-by-step","t":3.05,"m":-13.3},{"s":"step-by-step","t":3.07,"m":-13.5},{"s":"step-by-step","t":3.1,"m":-13.85},{"s":"step-by-step","t":3.15,"m":-14.3},{"s":"step-by-step","t":3.2,"m":-14.7},{"s":"step-by-step","t":3.25,"m":-15.05},{"s":"step-by-step","t":3.3,"m":-15.33},{"s":"step-by-step","t":3.35,"m":-15.58},{"s":"step-by-step","t":3.4,"m":-15.8},{"s":"step-by-step","t":3.45,"m":-16.0},{"s":"step-by-step","t":3.5,"m":-16.2},{"s":"step-by-step","t":3.55,"m":-16.38},{"s":"step-by-step","t":3.6,"m":-16.55},{"s":"step-by-step","t":3.65,"m":-16.72},{"s":"step-by-step","t":3.7,"m":-16.86},{"s":"step-by-step","t":3.75,"m":-16.98},{"s":"step-by-step","t":3.8,"m":-17.08},{"s":"step-by-step","t":3.85,"m":-17.17},{"s":"step-by-step","t":3.9,"m":-17.23},{"s":"step-by-step","t":3.95,"m":-17.28},{"s":"step-by-step","t":4.0,"m":-17.31},{"s":"step-by-step","t":4.05,"m":-17.34},{"s":"step-by-step","t":4.1,"m":-17.36},{"s":"step-by-step","t":4.15,"m":-17.37},{"s":"step-by-step","t":4.2,"m":-17.37},{"s":"step-by-step","t":4.25,"m":-17.35},{"s":"step-by-step","t":4.3,"m":-17.32},{"s":"step-by-step","t":4.32,"m":-17.3},{"s":"step-by-step","t":4.33,"m":-17.35},{"s":"step-by-step","t":4.335,"m":-17.8},{"s":"step-by-step","t":4.35,"m":-17.95},{"s":"step-by-step","t":4.38,"m":-18.05},{"s":"step-by-step","t":4.407,"m":-18.08},{"s":"step-by-step","t":4.43,"m":-18.0},{"s":"step-by-step","t":4.46,"m":-17.82},{"s":"step-by-step","t":4.49,"m":-17.65},{"s":"step-by-step","t":4.51,"m":-17.55},{"s":"step-by-step","t":4.533,"m":-17.49},{"s":"step-by-step","t":4.55,"m":-17.65},{"s":"step-by-step","t":4.58,"m":-17.82},{"s":"step-by-step","t":4.615,"m":-17.9},{"s":"step-by-step","t":4.65,"m":-17.82},{"s":"step-by-step","t":4.69,"m":-17.6},{"s":"step-by-step","t":4.72,"m":-17.45},{"s":"step-by-step","t":4.735,"m":-17.38},{"s":"step-by-step","t":4.75,"m":-17.55},{"s":"step-by-step","t":4.77,"m":-17.66},{"s":"step-by-step","t":4.79,"m":-17.45},{"s":"step-by-step","t":4.82,"m":-17.1},{"s":"step-by-step","t":4.84,"m":-16.97},{"s":"step-by-step","t":4.86,"m":-17.15},{"s":"step-by-step","t":4.877,"m":-17.26},{"s":"step-by-step","t":4.9,"m":-17.12},{"s":"step-by-step","t":4.93,"m":-16.95},{"s":"step-by-step","t":4.96,"m":-16.81},{"s":"step-by-step","t":4.975,"m":-17.2},{"s":"step-by-step","t":4.99,"m":-17.7},{"s":"step-by-step","t":5.01,"m":-18.0},{"s":"step-by-step","t":5.025,"m":-18.07},{"s":"step-by-step","t":5.04,"m":-17.98},{"s":"step-by-step","t":5.07,"m":-17.75},{"s":"step-by-step","t":5.11,"m":-17.47},{"s":"step-by-step","t":5.15,"m":-17.18},{"s":"step-by-step","t":5.18,"m":-16.97},{"s":"step-by-step","t":5.22,"m":-16.8},{"s":"step-by-step","t":5.25,"m":-16.7},{"s":"step-by-step","t":5.29,"m":-16.62},{"s":"step-by-step","t":5.32,"m":-16.56},{"s":"step-by-step","t":5.33,"m":-16.6},{"s":"step-by-step","t":5.337,"m":-17.2},{"s":"step-by-step","t":5.34,"m":-17.7},{"s":"step-by-step","t":5.345,"m":-17.2},{"s":"step-by-step","t":5.355,"m":-16.7},{"s":"step-by-step","t":5.375,"m":-16.56},{"s":"step-by-step","t":5.43,"m":-16.53},{"s":"step-by-step","t":5.48,"m":-16.6},{"s":"step-by-step","t":5.5,"m":-16.9},{"s":"step-by-step","t":5.51,"m":-17.5},{"s":"step-by-step","t":5.52,"m":-18.07},{"s":"step-by-step","t":5.53,"m":-17.85},{"s":"step-by-step","t":5.566,"m":-17.33},{"s":"step-by-step","t":5.6,"m":-17.1},{"s":"step-by-step","t":5.62,"m":-16.97},{"s":"step-by-step","t":5.66,"m":-16.84},{"s":"step-by-step","t":5.675,"m":-17.0},{"s":"step-by-step","t":5.686,"m":-17.6},{"s":"step-by-step","t":5.7,"m":-18.7},{"s":"step-by-step","t":5.71,"m":-19.3},{"s":"step-by-step","t":5.72,"m":-19.58},{"s":"step-by-step","t":5.73,"m":-19.5},{"s":"step-by-step","t":5.75,"m":-19.1},{"s":"step-by-step","t":5.78,"m":-18.5},{"s":"step-by-step","t":5.8,"m":-18.2},{"s":"step-by-step","t":5.82,"m":-17.95},{"s":"step-by-step","t":5.835,"m":-18.4},{"s":"step-by-step","t":5.85,"m":-18.89},{"s":"step-by-step","t":5.87,"m":-18.75},{"s":"step-by-step","t":5.89,"m":-18.52},{"s":"step-by-step","t":5.91,"m":-18.1},{"s":"step-by-step","t":5.93,"m":-17.6},{"s":"step-by-step","t":5.95,"m":-16.6},{"s":"step-by-step","t":5.96,"m":-16.42},{"s":"step-by-step","t":5.99,"m":-15.2},{"s":"step-by-step","t":6.02,"m":-14.85},{"s":"step-by-step","t":6.04,"m":-14.41},{"s":"step-by-step","t":6.07,"m":-13.9},{"s":"step-by-step","t":6.1,"m":-13.42},{"s":"step-by-step","t":6.13,"m":-13.0},{"s":"step-by-step","t":6.18,"m":-12.32},{"s":"step-by-step","t":6.22,"m":-11.95},{"s":"step-by-step","t":6.28,"m":-11.44},{"s":"step-by-step","t":6.35,"m":-10.71},{"s":"step-by-step","t":6.44,"m":-10.14},
{"s":"instantaneous","t":2.995,"m":-11.6},{"s":"instantaneous","t":3.01,"m":-12.4},{"s":"instantaneous","t":3.02,"m":-12.75},{"s":"instantaneous","t":3.035,"m":-13.05},{"s":"instantaneous","t":3.05,"m":-13.28},{"s":"instantaneous","t":3.07,"m":-13.5},{"s":"instantaneous","t":3.1,"m":-13.85},{"s":"instantaneous","t":3.15,"m":-14.3},{"s":"instantaneous","t":3.2,"m":-14.7},{"s":"instantaneous","t":3.25,"m":-15.05},{"s":"instantaneous","t":3.3,"m":-15.33},{"s":"instantaneous","t":3.35,"m":-15.58},{"s":"instantaneous","t":3.4,"m":-15.8},{"s":"instantaneous","t":3.45,"m":-16.0},{"s":"instantaneous","t":3.5,"m":-16.2},{"s":"instantaneous","t":3.55,"m":-16.38},{"s":"instantaneous","t":3.6,"m":-16.55},{"s":"instantaneous","t":3.65,"m":-16.72},{"s":"instantaneous","t":3.7,"m":-16.86},{"s":"instantaneous","t":3.75,"m":-16.98},{"s":"instantaneous","t":3.8,"m":-17.08},{"s":"instantaneous","t":3.85,"m":-17.17},{"s":"instantaneous","t":3.9,"m":-17.23},{"s":"instantaneous","t":3.95,"m":-17.28},{"s":"instantaneous","t":4.0,"m":-17.31},{"s":"instantaneous","t":4.05,"m":-17.34},{"s":"instantaneous","t":4.1,"m":-17.35},{"s":"instantaneous","t":4.15,"m":-17.36},{"s":"instantaneous","t":4.2,"m":-17.35},{"s":"instantaneous","t":4.25,"m":-17.33},{"s":"instantaneous","t":4.3,"m":-17.3},{"s":"instantaneous","t":4.33,"m":-17.29},{"s":"instantaneous","t":4.34,"m":-17.6},{"s":"instantaneous","t":4.36,"m":-17.85},{"s":"instantaneous","t":4.38,"m":-17.95},{"s":"instantaneous","t":4.407,"m":-18.0},{"s":"instantaneous","t":4.43,"m":-17.95},{"s":"instantaneous","t":4.46,"m":-17.78},{"s":"instantaneous","t":4.49,"m":-17.62},{"s":"instantaneous","t":4.53,"m":-17.5},{"s":"instantaneous","t":4.55,"m":-17.62},{"s":"instantaneous","t":4.58,"m":-17.78},{"s":"instantaneous","t":4.615,"m":-17.85},{"s":"instantaneous","t":4.65,"m":-17.8},{"s":"instantaneous","t":4.69,"m":-17.6},{"s":"instantaneous","t":4.735,"m":-17.4},{"s":"instantaneous","t":4.75,"m":-17.5},{"s":"instantaneous","t":4.77,"m":-17.58},{"s":"instantaneous","t":4.79,"m":-17.45},{"s":"instantaneous","t":4.82,"m":-17.15},{"s":"instantaneous","t":4.84,"m":-17.05},{"s":"instantaneous","t":4.86,"m":-17.2},{"s":"instantaneous","t":4.877,"m":-17.3},{"s":"instantaneous","t":4.9,"m":-17.18},{"s":"instantaneous","t":4.93,"m":-17.02},{"s":"instantaneous","t":4.96,"m":-16.94},{"s":"instantaneous","t":4.975,"m":-17.2},{"s":"instantaneous","t":4.99,"m":-17.65},{"s":"instantaneous","t":5.01,"m":-17.95},{"s":"instantaneous","t":5.025,"m":-18.0},{"s":"instantaneous","t":5.04,"m":-17.95},{"s":"instantaneous","t":5.07,"m":-17.72},{"s":"instantaneous","t":5.11,"m":-17.45},{"s":"instantaneous","t":5.15,"m":-17.18},{"s":"instantaneous","t":5.18,"m":-17.0},{"s":"instantaneous","t":5.22,"m":-16.85},{"s":"instantaneous","t":5.25,"m":-16.76},{"s":"instantaneous","t":5.29,"m":-16.7},{"s":"instantaneous","t":5.32,"m":-16.66},{"s":"instantaneous","t":5.33,"m":-16.7},{"s":"instantaneous","t":5.337,"m":-17.2},{"s":"instantaneous","t":5.34,"m":-17.68},{"s":"instantaneous","t":5.345,"m":-17.2},{"s":"instantaneous","t":5.355,"m":-16.8},{"s":"instantaneous","t":5.375,"m":-16.68},{"s":"instantaneous","t":5.43,"m":-16.66},{"s":"instantaneous","t":5.48,"m":-16.7},{"s":"instantaneous","t":5.5,"m":-16.95},{"s":"instantaneous","t":5.51,"m":-17.5},{"s":"instantaneous","t":5.52,"m":-18.05},{"s":"instantaneous","t":5.53,"m":-17.9},{"s":"instantaneous","t":5.566,"m":-17.45},{"s":"instantaneous","t":5.6,"m":-17.25},{"s":"instantaneous","t":5.62,"m":-17.14},{"s":"instantaneous","t":5.66,"m":-17.02},{"s":"instantaneous","t":5.675,"m":-17.1},{"s":"instantaneous","t":5.686,"m":-17.6},{"s":"instantaneous","t":5.7,"m":-18.7},{"s":"instantaneous","t":5.71,"m":-19.3},{"s":"instantaneous","t":5.72,"m":-19.58},{"s":"instantaneous","t":5.73,"m":-19.5},{"s":"instantaneous","t":5.75,"m":-19.15},{"s":"instantaneous","t":5.78,"m":-18.5},{"s":"instantaneous","t":5.8,"m":-18.1},{"s":"instantaneous","t":5.815,"m":-17.88},{"s":"instantaneous","t":5.825,"m":-17.9},{"s":"instantaneous","t":5.835,"m":-18.4},{"s":"instantaneous","t":5.85,"m":-18.85},{"s":"instantaneous","t":5.87,"m":-18.75},{"s":"instantaneous","t":5.89,"m":-18.55},{"s":"instantaneous","t":5.91,"m":-18.2},{"s":"instantaneous","t":5.93,"m":-17.75},{"s":"instantaneous","t":5.95,"m":-17.0},{"s":"instantaneous","t":5.97,"m":-16.3},{"s":"instantaneous","t":6.0,"m":-15.4},{"s":"instantaneous","t":6.04,"m":-14.55},{"s":"instantaneous","t":6.07,"m":-13.95},{"s":"instantaneous","t":6.1,"m":-13.4},{"s":"instantaneous","t":6.13,"m":-12.9},{"s":"instantaneous","t":6.17,"m":-12.3},{"s":"instantaneous","t":6.22,"m":-11.7},{"s":"instantaneous","t":6.26,"m":-11.3},{"s":"instantaneous","t":6.3,"m":-10.8},{"s":"instantaneous","t":6.34,"m":-10.45},{"s":"instantaneous","t":6.385,"m":-10.14}
]
},
"layer": [
{
"data": {"name": "comp"},
"transform": [{"filter": "datum.k === 'frag'"}],
"mark": {"type": "line", "color": "#b062de", "strokeWidth": 1.3, "strokeDash": [14, 6], "clip": true},
"encoding": {
"x": {"field": "t", "type": "quantitative", "scale": {"domain": [2.5, 6.5], "nice": false, "zero": false},
"axis": {"orient": "bottom", "values": [2.5, 3, 3.5, 4, 4.5, 5, 5.5, 6, 6.5], "tickSize": 25, "tickWidth": 2, "domain": true, "domainWidth": 2, "labelFontSize": 25, "labelPadding": 12, "labelExpr": "'' + datum.value", "title": "Time from 19:08:27 UT (seconds)", "titleFontSize": 32, "titlePadding": 13}},
"y": {"field": "m", "type": "quantitative", "scale": {"domain": [-20, -10], "reverse": true, "nice": false, "zero": false},
"axis": {"orient": "left", "values": [-20, -18, -16, -14, -12, -10], "tickSize": 24, "tickWidth": 2, "domain": true, "domainWidth": 2, "labelFontSize": 24, "labelPadding": 14, "labelExpr": "'' + datum.value", "title": "Absolute magnitude", "titleFontSize": 32, "titlePadding": 10}},
"detail": {"field": "c"},
"order": {"field": "i", "type": "quantitative"}
}
},
{
"data": {"name": "comp"},
"transform": [{"filter": "datum.k === 'wake'"}],
"mark": {"type": "line", "color": "#5c5ce6", "strokeWidth": 1.3, "strokeDash": [14, 6], "clip": true},
"encoding": {
"x": {"field": "t", "type": "quantitative", "scale": {"domain": [2.5, 6.5], "nice": false, "zero": false},
"axis": {"orient": "bottom", "values": [2.6, 2.7, 2.8, 2.9, 3.1, 3.2, 3.3, 3.4, 3.6, 3.7, 3.8, 3.9, 4.1, 4.2, 4.3, 4.4, 4.6, 4.7, 4.8, 4.9, 5.1, 5.2, 5.3, 5.4, 5.6, 5.7, 5.8, 5.9, 6.1, 6.2, 6.3, 6.4], "tickSize": 11, "tickWidth": 2, "domain": false, "labels": false, "title": null}},
"y": {"field": "m", "type": "quantitative", "scale": {"domain": [-20, -10], "reverse": true, "nice": false, "zero": false},
"axis": {"orient": "left", "values": [-19, -17, -15, -13, -11], "tickSize": 12, "tickWidth": 2, "domain": false, "labels": false, "title": null}},
"detail": {"field": "c"},
"order": {"field": "i", "type": "quantitative"}
}
},
{
"data": {"name": "comp"},
"transform": [{"filter": "datum.k === 'green'"}],
"mark": {"type": "line", "color": "#47a86b", "strokeWidth": 1.3, "strokeDash": [14, 6], "clip": true},
"encoding": {
"x": {"field": "t", "type": "quantitative", "scale": {"domain": [2.5, 6.5], "nice": false, "zero": false},
"axis": {"orient": "top", "values": [2.5, 3, 3.5, 4, 4.5, 5, 5.5, 6, 6.5], "tickSize": -25, "tickWidth": 2, "domain": true, "domainWidth": 2, "labels": false, "title": null}},
"y": {"field": "m", "type": "quantitative", "scale": {"domain": [-20, -10], "reverse": true, "nice": false, "zero": false},
"axis": {"orient": "right", "values": [-20, -18, -16, -14, -12, -10], "tickSize": -25, "tickWidth": 2, "domain": true, "domainWidth": 2, "labels": false, "title": null}},
"detail": {"field": "c"},
"order": {"field": "i", "type": "quantitative"}
}
},
{
"data": {"name": "comp"},
"transform": [{"filter": "datum.k === 'orange'"}],
"mark": {"type": "line", "color": "#f2a158", "strokeWidth": 1.3, "strokeDash": [14, 6], "clip": true},
"encoding": {
"x": {"field": "t", "type": "quantitative", "scale": {"domain": [2.5, 6.5], "nice": false, "zero": false},
"axis": {"orient": "top", "values": [2.6, 2.7, 2.8, 2.9, 3.1, 3.2, 3.3, 3.4, 3.6, 3.7, 3.8, 3.9, 4.1, 4.2, 4.3, 4.4, 4.6, 4.7, 4.8, 4.9, 5.1, 5.2, 5.3, 5.4, 5.6, 5.7, 5.8, 5.9, 6.1, 6.2, 6.3, 6.4], "tickSize": -11, "tickWidth": 2, "domain": false, "labels": false, "title": null}},
"y": {"field": "m", "type": "quantitative", "scale": {"domain": [-20, -10], "reverse": true, "nice": false, "zero": false},
"axis": {"orient": "right", "values": [-19, -17, -15, -13, -11], "tickSize": -12, "tickWidth": 2, "domain": false, "labels": false, "title": null}},
"detail": {"field": "c"},
"order": {"field": "i", "type": "quantitative"}
}
},
{
"data": {"name": "rad"},
"mark": {"type": "point", "shape": "M-1,0H1M0,-1V1", "size": 110, "filled": false, "strokeWidth": 1.4, "opacity": 0.75, "clip": true},
"encoding": {
"x": {"field": "t", "type": "quantitative", "scale": {"domain": [2.5, 6.5], "nice": false, "zero": false}, "axis": null},
"y": {"field": "m", "type": "quantitative", "scale": {"domain": [-20, -10], "reverse": true, "nice": false, "zero": false}, "axis": null},
"stroke": {"field": "r", "type": "nominal", "scale": {"domain": ["04", "14"], "range": ["#1c1ce0", "#1e9a4c"]},
"legend": {"title": ["Radiometer", "number"], "orient": "none", "legendX": 30, "legendY": 42, "titleAnchor": "start", "titleFontSize": 22, "titleLineHeight": 26, "titleFontWeight": "normal", "titleColor": "black", "labelFontSize": 22, "labelColor": "black", "symbolType": "M-9,0H-7M-8,-1V1M-5,0H-3M-4,-1V1M-1,0H1M0,-1V1", "symbolSize": 400, "symbolStrokeWidth": 1.2, "symbolOpacity": 0.6, "symbolOffset": 84, "labelOffset": 7, "rowPadding": 9, "titlePadding": 8, "padding": 16, "strokeColor": "black", "fillColor": "white"}}
}
},
{
"data": {"name": "mod"},
"mark": {"type": "line", "strokeWidth": 2.5, "clip": true},
"encoding": {
"x": {"field": "t", "type": "quantitative", "scale": {"domain": [2.5, 6.5], "nice": false, "zero": false}, "axis": null},
"y": {"field": "m", "type": "quantitative", "scale": {"domain": [-20, -10], "reverse": true, "nice": false, "zero": false}, "axis": null},
"color": {"field": "s", "type": "nominal", "scale": {"domain": ["step-by-step", "instantaneous"], "range": ["#000000", "#e8141c"]},
"legend": {"title": "Model scenario", "orient": "none", "legendX": 392, "legendY": 608, "titleAnchor": "middle", "titleFontSize": 23, "titleFontWeight": "normal", "titleColor": "black", "labelFontSize": 23, "labelColor": "black", "symbolType": "M-4,0H4", "symbolSize": 432, "symbolStrokeWidth": 2.5, "symbolOffset": 31, "labelOffset": 41, "rowPadding": 11, "titlePadding": 9, "padding": 12, "strokeColor": "black", "fillColor": "white", "labelLimit": 400}}
}
}
],
"resolve": {"axis": {"x": "independent", "y": "independent"}},
"config": {
"font": "Liberation Sans",
"view": {"stroke": null},
"axis": {"grid": false, "tickColor": "black", "domainColor": "black", "labelColor": "black", "titleColor": "black", "titleFontWeight": "normal", "labelFlush": false, "labelOverlap": false, "zindex": 1}
}
}
